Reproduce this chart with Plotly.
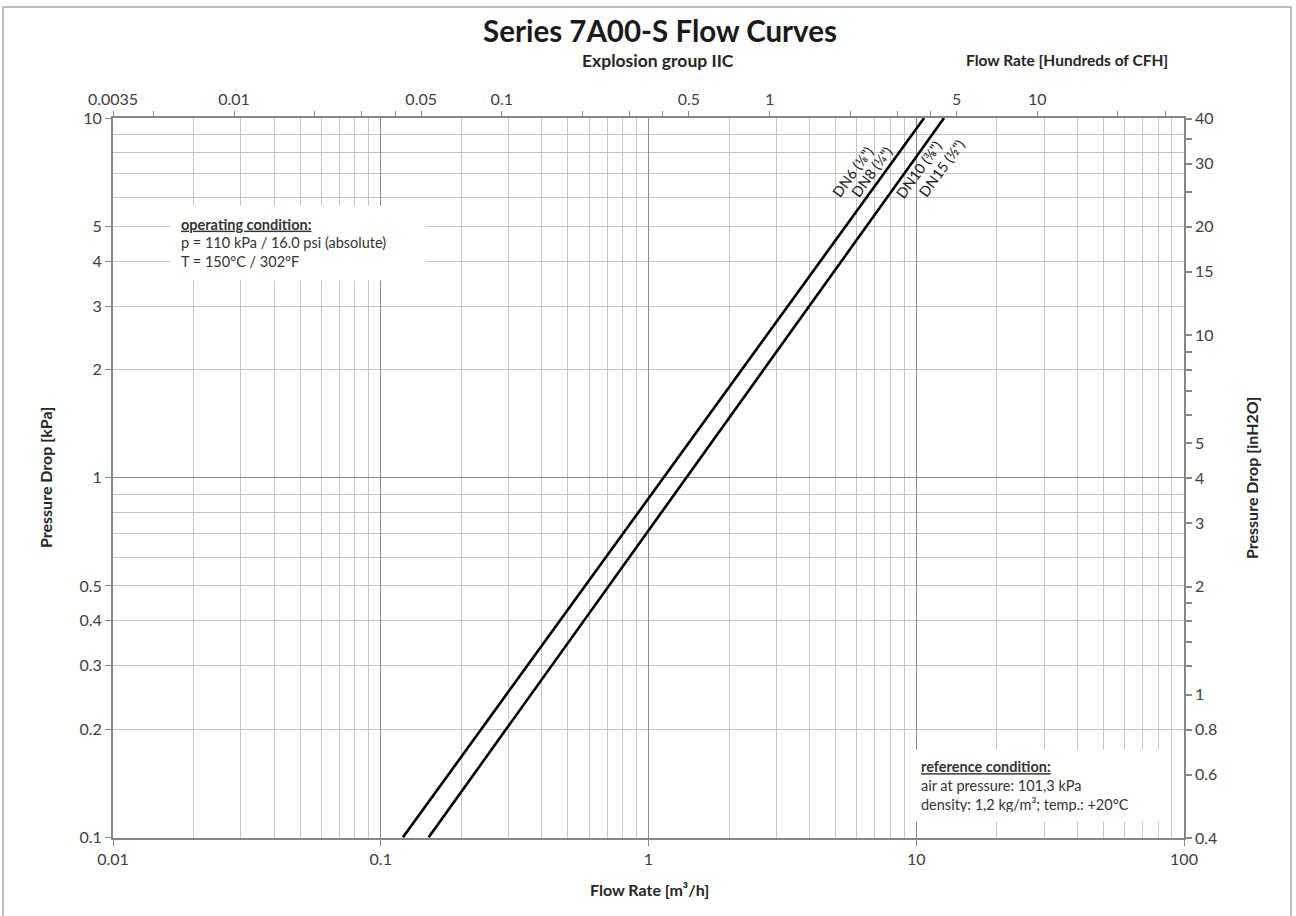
import math
import plotly.graph_objects as go

# ---------------- data ----------------
pressure_kpa = [0.1, 1.0, 10.0]
flow_dn6_dn8 = [0.121, 1.14, 10.7]      # m3/h
flow_dn10_dn15 = [0.151, 1.39, 12.7]    # m3/h

M3H_TO_HCFH = 35.3147 / 100.0
KPA_TO_INH2O = 4.01463

X_MIN, X_MAX = 0.01, 100.0
Y_MIN, Y_MAX = 0.0996, 10.0

bottom_tick_vals = [0.01, 0.1, 1, 10, 100]
bottom_tick_text = ["0.01", "0.1", "1", "10", "100"]

left_tick_vals = [0.1, 0.2, 0.3, 0.4, 0.5, 1, 2, 3, 4, 5, 10]
left_tick_text = ["0.1", "0.2", "0.3", "0.4", "0.5", "1", "2", "3", "4", "5", "10"]

top_tick_vals = [X_MIN * M3H_TO_HCFH * 1.0005, 0.005, 0.01, 0.02, 0.03, 0.04, 0.05,
                 0.1, 0.2, 0.3, 0.4, 0.5, 1, 2, 3, 4, 5, 10, 20, 30]
top_tick_text = ["0.0035", "", "0.01", "", "", "", "0.05",
                 "0.1", "", "", "", "0.5", "1", "", "", "", "5", "10", "", ""]

right_tick_vals = [0.4, 0.6, 0.8, 1, 1.2, 1.4, 1.6, 1.8, 2, 3, 4, 5, 6, 7, 8, 9,
                   10, 15, 20, 25, 30, 35, 40]
right_tick_text = ["0.4", "0.6", "0.8", "1", "", "", "", "", "2", "3", "4", "5", "", "", "", "",
                   "10", "15", "20", "", "30", "", "40"]

decades_y = [0.1, 1, 10]
minor_x = [m * d for d in [0.01, 0.1, 1, 10] for m in range(2, 10)]
minor_y = [m * d for d in [0.1, 1] for m in range(2, 10)]

line_labels_a = ["DN6 (\u215b\")", "DN8 (\u00bc\")"]
line_labels_b = ["DN10 (\u215c\")", "DN15 (\u00bd\")"]

# ---------------- figure ----------------
FONT = "Lato, 'Open Sans', sans-serif"
TICK_COLOR = "#404040"
AXIS_COLOR = "#868686"
MAJOR_GRID = "#8a8a8a"
MINOR_GRID = "#c4c4c4"

fig = go.Figure()

for flows in (flow_dn6_dn8, flow_dn10_dn15):
    fig.add_trace(go.Scatter(x=flows, y=pressure_kpa, mode="lines",
                             line=dict(color="black", width=2.6),
                             showlegend=False, hoverinfo="skip",
                             xaxis="x", yaxis="y"))

# invisible helper traces so that the secondary axes are drawn
fig.add_trace(go.Scatter(x=[f * M3H_TO_HCFH for f in flow_dn6_dn8],
                         y=[p * KPA_TO_INH2O for p in pressure_kpa],
                         mode="lines", line=dict(width=0), opacity=0,
                         showlegend=False, hoverinfo="skip", xaxis="x2", yaxis="y2"))
fig.add_trace(go.Scatter(x=flow_dn6_dn8, y=pressure_kpa,
                         mode="lines", line=dict(width=0), opacity=0,
                         showlegend=False, hoverinfo="skip", xaxis="x", yaxis="y3"))

lx = [math.log10(X_MIN), math.log10(X_MAX)]
ly = [math.log10(Y_MIN), math.log10(Y_MAX)]

tickfont = dict(family=FONT, size=16, color=TICK_COLOR)

fig.update_layout(
    width=1296, height=916,
    margin=dict(l=113, r=112, t=118, b=78),
    paper_bgcolor="white", plot_bgcolor="white",
    font=dict(family=FONT, color=TICK_COLOR),
    xaxis=dict(type="log", range=lx, tickvals=bottom_tick_vals, ticktext=bottom_tick_text,
               showgrid=True, gridcolor=MAJOR_GRID, gridwidth=1,
               minor=dict(tickvals=minor_x, showgrid=True, gridcolor=MINOR_GRID,
                          gridwidth=1, ticks=""),
               showline=True, linecolor=AXIS_COLOR, linewidth=2,
               ticks="outside", ticklen=6, tickcolor=AXIS_COLOR, tickwidth=1,
               tickfont=tickfont, zeroline=False),
    yaxis=dict(type="log", range=ly, tickvals=decades_y, showticklabels=False,
               showgrid=True, gridcolor=MAJOR_GRID, gridwidth=1,
               minor=dict(tickvals=minor_y, showgrid=True, gridcolor=MINOR_GRID,
                          gridwidth=1, ticks=""),
               showline=True, linecolor=AXIS_COLOR, linewidth=2, ticks="",
               zeroline=False),
    yaxis3=dict(type="log", range=ly, overlaying="y", side="left", anchor="x",
                tickvals=left_tick_vals, ticktext=left_tick_text,
                showgrid=False, showline=False, zeroline=False,
                ticks="outside", ticklen=7, tickcolor=AXIS_COLOR, tickwidth=1,
                tickfont=tickfont),
    xaxis2=dict(type="log", overlaying="x", side="top", anchor="y",
                range=[v + math.log10(M3H_TO_HCFH) for v in lx],
                tickvals=top_tick_vals, ticktext=top_tick_text,
                showgrid=False, showline=True, linecolor=AXIS_COLOR, linewidth=1.5,
                ticks="outside", ticklen=5, tickcolor=AXIS_COLOR, tickwidth=1,
                tickfont=tickfont, zeroline=False),
    yaxis2=dict(type="log", overlaying="y", side="right", anchor="x",
                range=[v + math.log10(KPA_TO_INH2O) for v in ly],
                tickvals=right_tick_vals, ticktext=right_tick_text,
                showgrid=False, showline=True, linecolor=AXIS_COLOR, linewidth=1.5,
                ticks="outside", ticklen=6, tickcolor=AXIS_COLOR, tickwidth=1.5,
                tickfont=tickfont, zeroline=False),
)

W_PLOT, H_PLOT = 1296 - 113 - 112, 916 - 118 - 78


def px_x(px):
    return (px - 113) / W_PLOT


def px_y(py):
    return (838 - py) / H_PLOT


annotations = [
    dict(text="<b>Series 7A00-S Flow Curves</b>", x=px_x(660), y=px_y(31),
         font=dict(size=29.5, color="#1a1a1a")),
    dict(text="<b>Explosion group IIC</b>", x=px_x(658), y=px_y(60),
         font=dict(size=17.5, color="#262626")),
    dict(text="<b>Flow Rate [Hundreds of CFH]</b>", x=px_x(1067), y=px_y(60),
         font=dict(size=15.5, color="#262626")),
    dict(text="<b>Flow Rate [m³/h]</b>", x=px_x(649), y=px_y(889),
         font=dict(size=16, color="#262626")),
    dict(text="<b>Pressure Drop [kPa]</b>", x=px_x(45), y=px_y(478), textangle=-90,
         font=dict(size=16, color="#262626")),
    dict(text="<b>Pressure Drop [inH2O]</b>", x=px_x(1251), y=px_y(478), textangle=-90,
         font=dict(size=16, color="#262626")),
]
for a in annotations:
    a.update(xref="paper", yref="paper", showarrow=False, xanchor="center", yanchor="middle")
    a["font"]["family"] = FONT

# condition boxes
annotations.append(dict(
    text="<b><u>operating condition:</u></b><br>p = 110 kPa / 16.0 psi (absolute)<br>T = 150°C / 302°F",
    xref="paper", yref="paper", x=px_x(170), y=px_y(205), xanchor="left", yanchor="top",
    align="left", showarrow=False, bgcolor="white", borderpad=10, width=235, height=54,
    font=dict(family=FONT, size=14.5, color="#333333")))
annotations.append(dict(
    text="<b><u>reference condition:</u></b><br>air at pressure: 101,3 kPa<br>density: 1,2 kg/m³; temp.: +20°C",
    xref="paper", yref="paper", x=px_x(911), y=px_y(749), xanchor="left", yanchor="top",
    align="left", showarrow=False, bgcolor="white", borderpad=9, width=236, height=53,
    font=dict(family=FONT, size=14.5, color="#333333")))

# rotated line labels
label_pos = [(853, 172), (872, 172), (919, 170), (941, 168)]
for txt, (px, py) in zip(line_labels_a + line_labels_b, label_pos):
    annotations.append(dict(text=txt, xref="paper", yref="paper", x=px_x(px), y=px_y(py),
                            showarrow=False, textangle=-54, xanchor="center", yanchor="middle",
                            font=dict(family=FONT, size=14.5, color="#1a1a1a")))

fig.update_layout(annotations=annotations)

# outer frame
fig.add_shape(type="rect", xref="paper", yref="paper",
              x0=px_x(3), x1=px_x(1291), y0=px_y(930), y1=px_y(7),
              line=dict(color="#a6a6a6", width=1.5), fillcolor="rgba(0,0,0,0)")

fig.write_html("out.html", config={"displayModeBar": False},
               post_script="document.body.style.margin='0px';document.body.style.overflow='hidden';")
